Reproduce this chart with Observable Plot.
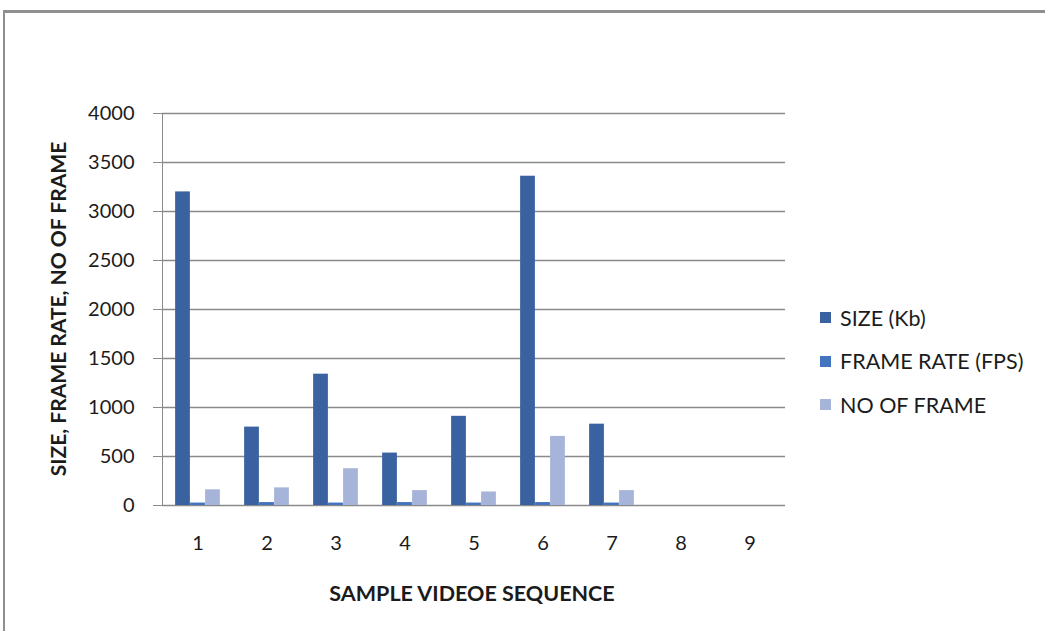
<!DOCTYPE html>
<html>
<head>
<meta charset="utf-8">
<script src="https://cdn.jsdelivr.net/npm/d3@7"></script>
<script src="https://cdn.jsdelivr.net/npm/@observablehq/plot@0.6"></script>
<style>
  body { margin: 0; background: #fff; font-family: Lato, "Open Sans", sans-serif; }
  #wrap { position: relative; width: 1045px; height: 631px; overflow: hidden; background: #fff; }
  #frame { position: absolute; left: 3px; top: 10px; width: 1200px; height: 800px;
           border-left: 2px solid #8f8f8f; border-top: 3px solid #8f8f8f; }
  #chart { position: absolute; left: 0; top: 0; }
  #chart svg text { fill: #1b1b1b; }
  .ytitle { position: absolute; left: 57px; top: 309px; transform: translate(-50%, -50%) rotate(-90deg);
            white-space: nowrap; font-weight: bold; font-size: 21px; color: #1b1b1b; }
  .xtitle { position: absolute; left: 472px; top: 593px; transform: translate(-50%, -50%);
            white-space: nowrap; font-weight: bold; font-size: 21.5px; color: #1b1b1b; }
  #legend { position: absolute; left: 820px; top: 296px; font-size: 21.5px; color: #1b1b1b; }
  #legend .item { display: flex; align-items: center; height: 43.5px; }
  #legend .sw { width: 11px; height: 11px; margin-right: 9px; }
</style>
</head>
<body>
<div id="wrap">
  <div id="frame"></div>
  <div id="chart"></div>
  <div class="ytitle">SIZE, FRAME RATE, NO OF FRAME</div>
  <div class="xtitle">SAMPLE VIDEOE SEQUENCE</div>
  <div id="legend"></div>
</div>
<script>
// Video sequences on the category axis (8 and 9 have no measurements)
const sequences = ["1", "2", "3", "4", "5", "6", "7", "8", "9"];
const measuredSequences = ["1", "2", "3", "4", "5", "6", "7"];

// Per-sequence measurements
const sizeKb = [3200, 800, 1340, 535, 910, 3360, 830];
const frameRate = [25, 30, 25, 30, 25, 30, 25];
const frameCount = [160, 180, 375, 152, 138, 705, 152];

const seriesNames = ["SIZE (Kb)", "FRAME RATE (FPS)", "NO OF FRAME"];
const seriesColors = ["#3a62a0", "#4274bf", "#a7b4da"];
const yTicks = [0, 500, 1000, 1500, 2000, 2500, 3000, 3500, 4000];

const seriesValues = [sizeKb, frameRate, frameCount];
const rows = seriesValues.map((values, s) =>
  measuredSequences.map((seq, i) => ({ sequence: seq, series: seriesNames[s], value: values[i] }))
);

const W = 1045, H = 631;
const margin = { top: 113, right: 260, bottom: 126, left: 162 };
const step = (W - margin.left - margin.right) / sequences.length;
const barW = step * 0.2166;           // each of the three bars in a cluster
const groupStart = (step - 3 * barW) / 2;

const barMarks = rows.map((data, s) =>
  Plot.barY(data, {
    x: "sequence",
    y: "value",
    fill: "series",
    insetLeft: groupStart + s * barW,
    insetRight: step - (groupStart + (s + 1) * barW)
  })
);

const chart = Plot.plot({
  width: W,
  height: H,
  marginTop: margin.top,
  marginRight: margin.right,
  marginBottom: margin.bottom,
  marginLeft: margin.left,
  style: { fontFamily: "Lato, 'Open Sans', sans-serif", fontSize: "20px", color: "#8a8a8a", background: "transparent" },
  x: { domain: sequences, padding: 0, label: null, tickSize: 0, tickPadding: 30 },
  y: { domain: [0, 4000], ticks: yTicks, tickFormat: d => String(d), label: null, tickSize: 9, tickPadding: 19, line: true },
  color: { domain: seriesNames, range: seriesColors },
  marks: [
    Plot.ruleY(yTicks, { stroke: "#8a8a8a", strokeWidth: 1.3 }),
    ...barMarks
  ]
});
document.getElementById("chart").appendChild(chart);

// Legend built from the same series names and colours
const legend = d3.select("#legend");
seriesNames.forEach((name, i) => {
  const item = legend.append("div").attr("class", "item");
  item.append("div").attr("class", "sw").style("background", seriesColors[i]);
  item.append("span").text(name);
});
</script>
</body>
</html>
